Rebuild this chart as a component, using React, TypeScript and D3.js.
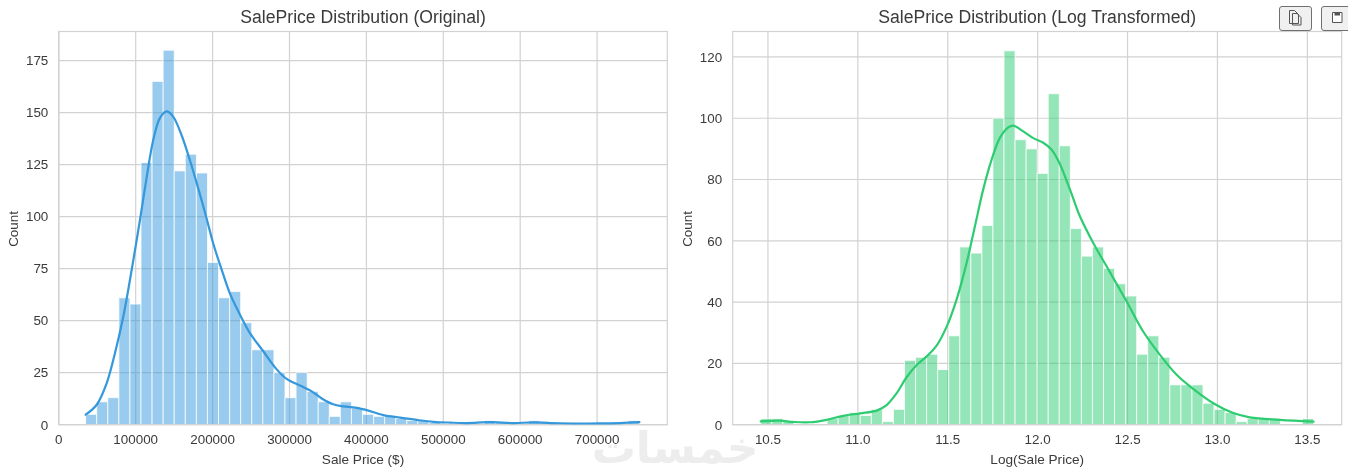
import React from "react";
import * as d3 from "d3";

const leftCounts = [5,11,13,61,58,126,165,180,122,130,121,78,61,64,49,36,36,25,13,25,16,11,4,11,8,5,4,4,3,2,2,1,0,0,0,0,2,1,1,0,2,1,0,0,0,0,0,0,0,2];
const leftKdeX = [34900,49300,62300,73100,83900,94800,105600,114300,122900,131600,140300,148900,159800,170600,181400,192300,200900,211800,222600,235600,248600,265900,283400,296300,313600,328900,341900,356900,370000,389500,400400,421900,443700,465500,487000,509500,530400,560800,591000,617000,651800,703800,729800,755000];
const leftKdeY = [4.8,9.6,20,34.5,52,74.5,98.5,119,137,147.5,150.6,148,139,127,113.5,99,87,74.5,63,52.9,44,35.3,26.6,22,18.8,16,12.6,9.8,8.8,8,7,4.6,3.4,2.3,1.4,1,0.8,1.2,0.8,1.1,0.7,0.6,0.8,1.2];
const rightCounts = [2,2,1,0,0,0,2,3,4,3,5,1,5,21,22,23,18,29,58,56,65,100,122,93,90,82,108,91,64,55,58,51,46,42,23,29,22,13,13,13,7,5,4,1,2,2,2,0,0,2];
const rightKdeX = [10.4602,10.567,10.64,10.733,10.826,10.919,11.012,11.105,11.16,11.216,11.27,11.327,11.383,11.438,11.494,11.55,11.605,11.651,11.697,11.744,11.79,11.837,11.864,11.92,11.976,12.031,12.078,12.124,12.18,12.235,12.31,12.384,12.495,12.587,12.68,12.773,12.865,12.977,13.088,13.18,13.348,13.5345];
const rightKdeY = [1.1,1.3,0.9,0.8,1.6,2.9,3.7,4.6,6.4,10.3,15.4,19.5,22.3,25.8,32,41,52.8,64.7,76.7,86.5,93.6,97,97.6,95.7,93.5,92,89.7,85,76.7,68,59.2,51.6,40.2,30.4,22.8,16.3,11.7,7,3.8,2.4,1.6,1];

const leftXTicks = [0,100000,200000,300000,400000,500000,600000,700000];
const leftYTicks = [0,25,50,75,100,125,150,175];
const rightXTicks = [10.5,11,11.5,12,12.5,13,13.5];
const rightYTicks = [0,20,40,60,80,100,120];

const FONT = "'Liberation Sans', Arial, sans-serif";
const INK = "#3a3a3a";
const GRID = "#d2d2d2";

type PanelProps = {
  title: string; xLabel: string; color: string;
  counts: number[]; kdeX: number[]; kdeY: number[];
  xTicks: number[]; yTicks: number[];
  xDomain: [number, number]; yMax: number;
  binStart: number; binEnd: number;
  left: number; right: number; xFmt: (v: number) => string; yLabelX: number;
};

const TOP = 31.5, BOTTOM = 424.7;

function Panel(p: PanelProps) {
  const x = d3.scaleLinear().domain(p.xDomain).range([p.left, p.right]);
  const y = d3.scaleLinear().domain([0, p.yMax]).range([BOTTOM, TOP]);
  const bw = (p.binEnd - p.binStart) / p.counts.length;
  const line = d3.line<number>()
    .x((d) => x(d))
    .y((_, i) => y(p.kdeY[i]))
    .curve(d3.curveCatmullRom.alpha(0.5));
  return (
    <g fontFamily={FONT} fill={INK}>
      {p.xTicks.map((t) => (
        <line key={t} x1={x(t)} x2={x(t)} y1={TOP} y2={BOTTOM} stroke={GRID} strokeWidth={1.2} />
      ))}
      {p.yTicks.map((t) => (
        <line key={t} x1={p.left} x2={p.right} y1={y(t)} y2={y(t)} stroke={GRID} strokeWidth={1.2} />
      ))}
      {p.counts.map((c, i) =>
        c > 0 ? (
          <rect key={i} x={x(p.binStart + i * bw)} width={x(p.binStart + bw) - x(p.binStart)}
            y={y(c)} height={y(0) - y(c)} fill={p.color} fillOpacity={0.5}
            stroke="#fff" strokeOpacity={0.75} strokeWidth={1} />
        ) : null
      )}
      <rect x={p.left} y={TOP} width={p.right - p.left} height={BOTTOM - TOP} fill="none" stroke={GRID} strokeWidth={1.2} />
      <path d={line(p.kdeX) ?? ""} fill="none" stroke={p.color} strokeWidth={2.2} strokeLinecap="round" />
      {p.xTicks.map((t) => (
        <text key={t} x={x(t)} y={443.5} textAnchor="middle" fontSize={13.4}>{p.xFmt(t)}</text>
      ))}
      {p.yTicks.map((t) => (
        <text key={t} x={p.left - 10.5} y={y(t) + 4.8} textAnchor="end" fontSize={13.4}>{t}</text>
      ))}
      <text x={(p.left + p.right) / 2} y={464} textAnchor="middle" fontSize={13.6}>{p.xLabel}</text>
      <text transform={`translate(${p.yLabelX},${229}) rotate(-90)`} textAnchor="middle" fontSize={13.4}>Count</text>
      <text x={(p.left + p.right) / 2} y={23} textAnchor="middle" fontSize={17.6}>{p.title}</text>
    </g>
  );
}

function Toolbar() {
  return (
    <g>
      <rect x={1279.5} y={6.5} width={32} height={24} rx={2.5} fill="#f0f0f0" stroke="#707070" />
      <path d="M1289.5 10.5h5l4 4v9h-9z M1292.5 13.5h4.5l4 4v7.5h-8.5z" fill="#f0f0f0" stroke="#555" strokeWidth={1} />
      <rect x={1321.5} y={6.5} width={32} height={24} rx={2.5} fill="#f0f0f0" stroke="#707070" />
      <path d="M1332.5 12.5h9.5v10h-9.5z" fill="#fff" stroke="#555" strokeWidth={1} />
      <rect x={1334.5} y={12} width={5.5} height={3.5} fill="#555" />
    </g>
  );
}

export default function App() {
  return (
    <svg width={1348} height={474} style={{ position: "absolute", left: 0, top: 0, background: "#fff" }}>
      <defs>
        <filter id="soft" x="0" y="0" width="100%" height="100%">
          <feGaussianBlur stdDeviation="0.3" />
        </filter>
      </defs>
      <g filter="url(#soft)">
        <text x={675} y={463} textAnchor="middle" fontFamily="'DejaVu Sans'" fontWeight={700} fontSize={44} fill="#ededed">خمسات</text>
        <Panel title="SalePrice Distribution (Original)" xLabel="Sale Price ($)" color="#3498db"
          counts={leftCounts} kdeX={leftKdeX} kdeY={leftKdeY} xTicks={leftXTicks} yTicks={leftYTicks}
          xDomain={[0, 791300]} yMax={189} binStart={34900} binEnd={755000}
          left={58.8} right={667.3} xFmt={(v) => String(v)} yLabelX={18} />
        <Panel title="SalePrice Distribution (Log Transformed)" xLabel="Log(Sale Price)" color="#2ecc71"
          counts={rightCounts} kdeX={rightKdeX} kdeY={rightKdeY} xTicks={rightXTicks} yTicks={rightYTicks}
          xDomain={[10.304, 13.691]} yMax={128.3} binStart={10.4602} binEnd={13.5345}
          left={732.7} right={1341.7} xFmt={(v) => v.toFixed(1)} yLabelX={692} />
        <Toolbar />
      </g>
    </svg>
  );
}
